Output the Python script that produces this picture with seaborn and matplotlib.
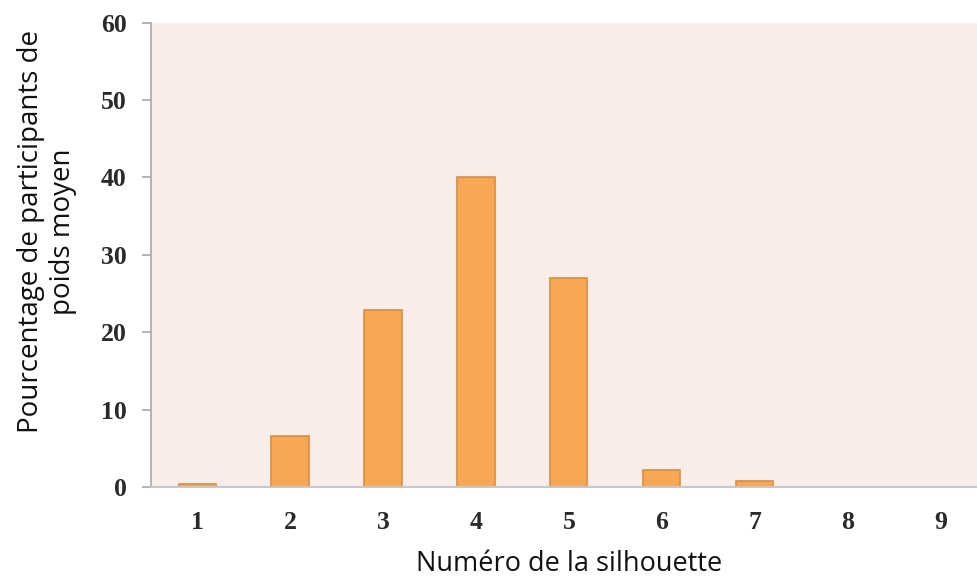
import matplotlib
matplotlib.use("Agg")
import matplotlib.pyplot as plt
import seaborn as sns
import pandas as pd

categories = ["1", "2", "3", "4", "5", "6", "7", "8", "9"]
values = [0.35, 6.6, 22.9, 40.0, 27.0, 2.2, 0.8, 0.0, 0.0]
yticks = [0, 10, 20, 30, 40, 50, 60]

sns.set_theme(style="white")
plt.rcParams['font.family'] = ['DejaVu Sans']

df = pd.DataFrame({"cat": categories, "val": values})

fig = plt.figure(figsize=(9.77, 5.78), dpi=100)
ax = fig.add_axes([150.7/977, 1 - 487/578, (987-150.7)/977, (487-22.7)/578])
ax.set_facecolor("#F8EDE8")

sns.barplot(data=df, x="cat", y="val", ax=ax, color="#F8A755", width=0.4,
            edgecolor="#D88E45", linewidth=1.2, saturation=1)

ax.set_xlim(-0.5, 8.5)
ax.set_ylim(0, 60)
ax.set_yticks(yticks)
ax.set_yticklabels([str(t) for t in yticks], family="Liberation Serif",
                   fontsize=18.5, fontweight="bold")
ax.set_xticks(range(len(categories)))
ax.set_xticklabels(categories, family="Liberation Serif", fontsize=18.5, fontweight="bold")
for lbl in ax.get_xticklabels() + ax.get_yticklabels():
    lbl.set_color("#2a2a2a")

for s in ["top", "right"]:
    ax.spines[s].set_visible(False)
ax.spines["left"].set_color("#A8A8A8")
ax.spines["bottom"].set_color("#C8C8C8")
ax.spines["left"].set_linewidth(1.2)
ax.spines["bottom"].set_linewidth(1.5)

ax.tick_params(axis="y", which="major", direction="out", length=6.5, width=1.2,
               color="#A8A8A8", left=True, pad=11)
ax.tick_params(axis="x", which="major", length=0, pad=17)

ax.set_xlabel("Numéro de la silhouette", family="Open Sans", fontsize=19.5,
              color="#111111", labelpad=12)
ax.set_ylabel("Pourcentage de participants de\npoids moyen", family="Open Sans",
              fontsize=20, color="#111111", labelpad=16, linespacing=1.2)
ax.yaxis.set_label_coords(-0.088, 0.55)

fig.savefig("out.png", dpi=100)
